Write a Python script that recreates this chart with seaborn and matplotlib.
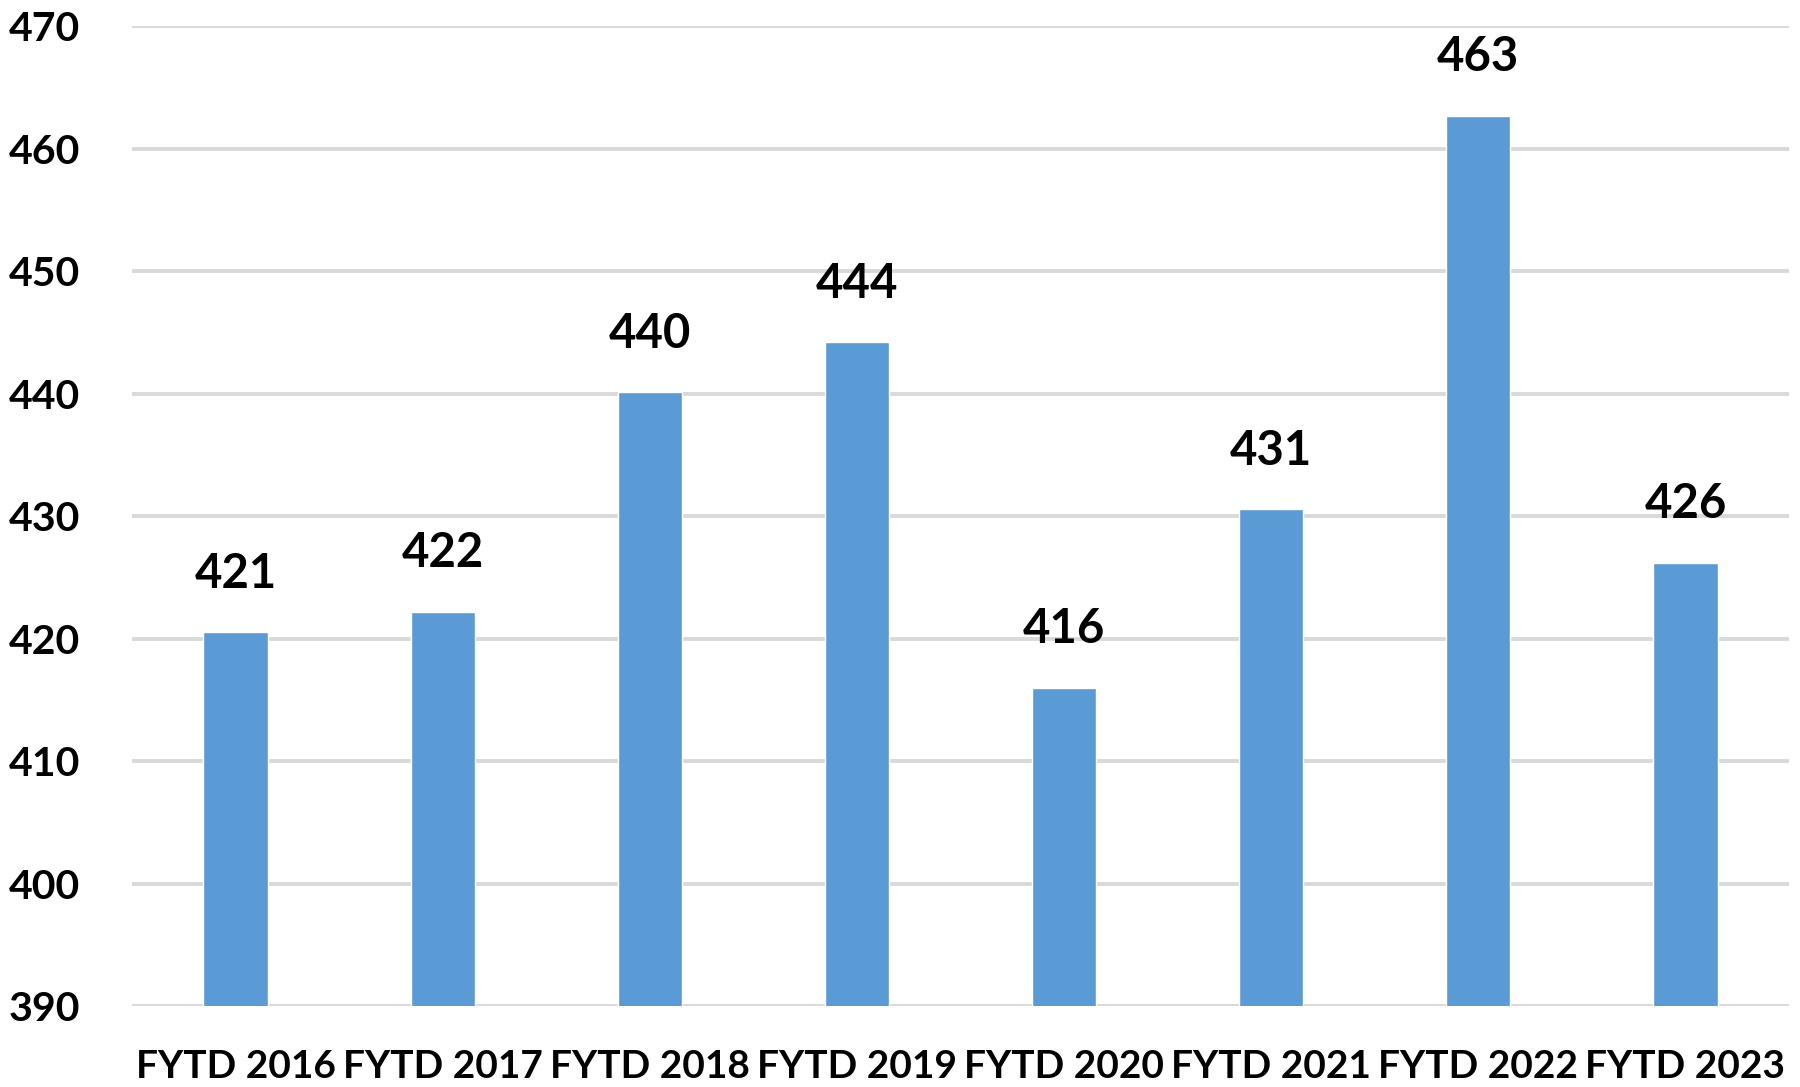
import matplotlib
matplotlib.use("Agg")
import matplotlib.pyplot as plt
import seaborn as sns
import pandas as pd

# Data
categories = ["FYTD 2016", "FYTD 2017", "FYTD 2018", "FYTD 2019",
              "FYTD 2020", "FYTD 2021", "FYTD 2022", "FYTD 2023"]
values = [420.5, 422.2, 440.1, 444.2, 416.0, 430.6, 462.7, 426.2]
value_labels = ["421", "422", "440", "444", "416", "431", "463", "426"]
y_ticks = [390, 400, 410, 420, 430, 440, 450, 460, 470]

sns.set_theme(style="white")
plt.rcParams['font.family'] = ['Lato', 'DejaVu Sans']

df = pd.DataFrame({"category": categories, "value": values})

fig = plt.figure(figsize=(18, 10.87), dpi=100)
ax = fig.add_axes([0.0733, 0.0745, 0.9206, 0.9015])

sns.barplot(data=df, x="category", y="value", color="#5B9BD5",
            saturation=1, width=0.31, ax=ax, zorder=3)

ax.set_ylim(390, 470)
ax.set_xlim(-0.5, len(categories) - 0.5)
ax.set_yticks(y_ticks)
ax.yaxis.grid(True, color="#D9D9D9", linewidth=2.8, zorder=0)
ax.xaxis.grid(False)
ax.set_axisbelow(True)
for s in ax.spines.values():
    s.set_visible(False)

ax.set_xlabel("")
ax.set_ylabel("")
ax.tick_params(axis="y", length=0, pad=37, labelsize=29.5)
ax.tick_params(axis="x", length=0, pad=31, labelsize=28)
for lbl in ax.get_yticklabels() + ax.get_xticklabels():
    lbl.set_fontweight("bold")
    lbl.set_color("#000000")

ax.bar_label(ax.containers[0], labels=value_labels, padding=26,
             fontsize=34, fontweight="bold", color="#000000")

fig.savefig("out.png", dpi=100, facecolor="white")
